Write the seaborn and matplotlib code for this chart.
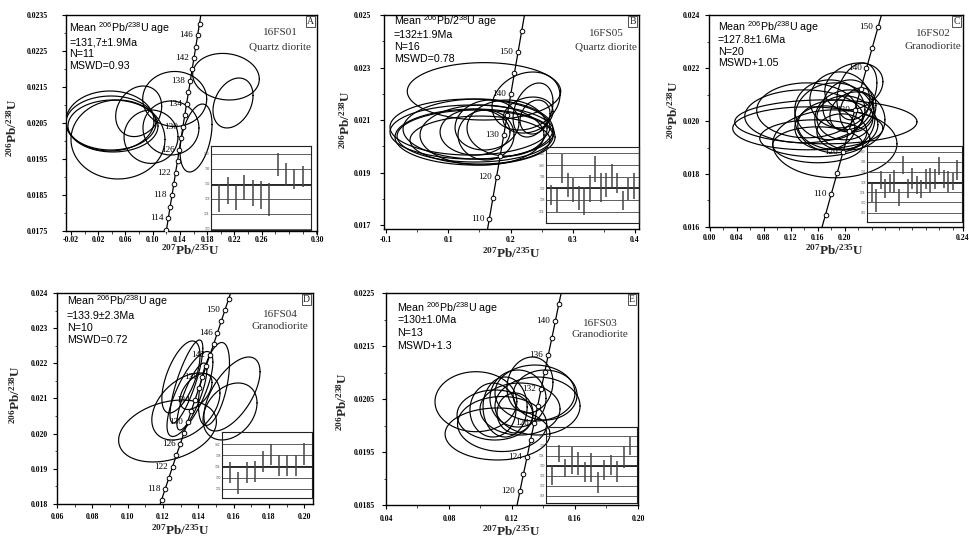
import numpy as np
import matplotlib
matplotlib.use("Agg")
import matplotlib.pyplot as plt
from matplotlib.ticker import FixedLocator, FixedFormatter, MultipleLocator, FormatStrFormatter
import seaborn as sns

# ---------------- Panel A : 16FS01 quartz diorite ----------------
A_ell_x = [0.0373, 0.0387, 0.0417, 0.0490, 0.0794, 0.1323, 0.0975, 0.1268, 0.1636, 0.2076, 0.2179]
A_ell_y = [0.020556, 0.020500, 0.020417, 0.020042, 0.020825, 0.021167, 0.020120, 0.020361, 0.020083, 0.021786, 0.021056]
A_ell_sx = [0.0646, 0.0661, 0.0661, 0.0690, 0.0338, 0.0470, 0.0396, 0.0411, 0.0235, 0.0489, 0.0294]
A_ell_sy = [0.000833, 0.000750, 0.000722, 0.001097, 0.000703, 0.000764, 0.000742, 0.000750, 0.000944, 0.000647, 0.000694]
A_ell_rho = [0.0, 0.0, 0.0, 0.0, 0.2, 0.0, 0.0, 0.0, 0.4, -0.1, 0.3]
A_age = [112, 114, 116, 118, 120, 122, 124, 126, 128, 130, 132, 134, 136, 138, 140, 142, 144, 146, 148, 150]
A_conc_x = [0.1202, 0.1229, 0.1255, 0.1283, 0.1310, 0.1336, 0.1364, 0.1390, 0.1417, 0.1443,
            0.1471, 0.1497, 0.1525, 0.1552, 0.1578, 0.1606, 0.1633, 0.1659, 0.1687, 0.1713]
A_conc_y = [0.017535, 0.017853, 0.018171, 0.018489, 0.018807, 0.019125, 0.019443, 0.019761, 0.020079, 0.020397,
            0.020715, 0.021033, 0.021351, 0.021669, 0.021987, 0.022305, 0.022623, 0.022941, 0.023259, 0.023577]
A_label_age = [114, 118, 122, 126, 130, 134, 138, 142, 146]
A_bar_lo = [124.4, 126.5, 125.1, 127.6, 126.2, 125.3, 123.3, 134.0, 131.6, 130.7, 131.1]
A_bar_hi = [132.0, 133.8, 131.3, 134.4, 132.9, 132.7, 132.3, 140.2, 137.5, 136.0, 136.6]
A_mean = 131.7
A_xtick_labels = ["-0.02", "0.02", "0.06", "0.10", "0.14", "0.18", "0.22", "0.26", "0.30"]
A_stats = ["Mean $^{206}$Pb/$^{238}$U age", "=131,7\u00b11.9Ma", "N=11", "MSWD=0.93"]
A_sample = ["16FS01", "Quartz diorite"]

# ---------------- Panel B : 16FS05 quartz diorite ----------------
B_ell_x = [0.1573, 0.2248, 0.2361, 0.2393, 0.1348, 0.1380, 0.1429, 0.1477, 0.1509, 0.1541, 0.1429, 0.1622, 0.1606, 0.1943, 0.2280, 0.1429]
B_ell_y = [0.022093, 0.021724, 0.021381, 0.021114, 0.020733, 0.020543, 0.020390, 0.020657, 0.020238, 0.020429,
           0.020543, 0.020810, 0.020429, 0.020695, 0.021190, 0.020352]
B_ell_sx = [0.1233, 0.0546, 0.0321, 0.0241, 0.1286, 0.1318, 0.1253, 0.1205, 0.1125, 0.0996, 0.0562, 0.0514, 0.0450, 0.0643, 0.0402, 0.1286]
B_ell_sy = [0.001093, 0.001105, 0.001029, 0.000648, 0.001067, 0.001029, 0.000990, 0.001143, 0.000914, 0.001143,
            0.000876, 0.000952, 0.000952, 0.001067, 0.000686, 0.001067]
B_ell_rho = [0.0, 0.2, 0.3, 0.2, 0.0, 0.0, 0.0, 0.0, 0.0, 0.0, 0.0, 0.1, 0.0, 0.0, 0.2, 0.0]
B_age = [105, 110, 115, 120, 125, 130, 135, 140, 145, 150, 155, 160]
B_conc_x = [0.1600, 0.1658, 0.1716, 0.1774, 0.1832, 0.1890, 0.1947, 0.2005, 0.2063, 0.2121, 0.2179, 0.2237]
B_conc_y = [0.016433, 0.017229, 0.018025, 0.018821, 0.019616, 0.020412, 0.021208, 0.022004, 0.022799, 0.023595, 0.024390, 0.025186]
B_label_age = [110, 120, 130, 140, 150]
B_bar_lo = [126.2, 123.9, 133.7, 129.1, 127.4, 124.5, 122.8, 127.4, 134.3, 127.4, 129.1, 132.6, 130.5, 124.5, 128.0, 128.5]
B_bar_hi = [133.2, 131.7, 143.9, 137.2, 135.5, 132.8, 132.3, 136.6, 143.2, 137.2, 137.2, 140.2, 137.2, 131.1, 135.5, 137.2]
B_mean = 132.0
B_xtick_labels = ["-0.1", "0.1", "0.2", "0.3", "0.4"]
B_stats = ["Mean $^{206}$Pb/2$^{38}$U age", "=132\u00b11.9Ma", "N=16", "MSWD=0.78"]
B_sample = ["16FS05", "Quartz diorite"]

# ---------------- Panel C : 16FS02 granodiorite ----------------
C_ell_x = [0.1452, 0.1719, 0.1393, 0.1437, 0.1852, 0.1556, 0.1600, 0.2133, 0.2178, 0.1926,
           0.2044, 0.1778, 0.2000, 0.2104, 0.1896, 0.1704, 0.2193, 0.1956, 0.1852, 0.2074]
C_ell_y = [0.019723, 0.019968, 0.020176, 0.020402, 0.019139, 0.019347, 0.019102, 0.021306, 0.021118, 0.020797,
           0.020609, 0.020421, 0.020119, 0.020345, 0.019855, 0.019742, 0.020421, 0.019592, 0.020119, 0.020043]
C_ell_sx = [0.1111, 0.1348, 0.0874, 0.0741, 0.0919, 0.0815, 0.0667, 0.0430, 0.0296, 0.0444,
            0.0370, 0.0519, 0.0415, 0.0326, 0.0593, 0.0444, 0.0267, 0.0370, 0.0593, 0.0519]
C_ell_sy = [0.000810, 0.000829, 0.000998, 0.001036, 0.001281, 0.000697, 0.000678, 0.000885, 0.001074, 0.001055,
            0.000942, 0.001130, 0.000829, 0.000754, 0.000942, 0.000829, 0.000829, 0.000678, 0.001319, 0.001130]
C_ell_rho = [0.0, 0.0, 0.0, 0.0, 0.0, 0.0, 0.0, 0.2, 0.3, 0.0, 0.1, 0.0, 0.0, 0.2, 0.0, 0.0, 0.2, 0.0, 0.0, 0.0]
C_age = [100, 105, 110, 115, 120, 125, 130, 135, 140, 145, 150, 155]
C_conc_x = [0.1627, 0.1714, 0.1800, 0.1887, 0.1973, 0.2060, 0.2147, 0.2233, 0.2320, 0.2406, 0.2493, 0.2580]
C_conc_y = [0.015675, 0.016464, 0.017252, 0.018041, 0.018829, 0.019618, 0.020406, 0.021195, 0.021983, 0.022772, 0.023560, 0.024349]
C_label_age = [110, 120, 130, 140, 150]
C_bar_lo = [120.0, 116.1, 125.2, 121.9, 124.1, 123.9, 118.7, 131.0, 121.9, 125.4,
            123.2, 121.9, 125.2, 123.9, 125.4, 130.6, 125.8, 124.1, 124.9, 129.0]
C_bar_hi = [127.7, 125.2, 132.3, 129.3, 131.0, 132.9, 125.4, 138.3, 129.3, 133.5,
            130.3, 129.0, 133.2, 133.5, 133.2, 137.8, 132.9, 132.3, 131.6, 136.5]
C_mean = 127.8
C_xtick_labels = ["0.00", "0.04", "0.08", "0.12", "0.16", "0.20", "0.24"]
C_stats = ["Mean $^{206}$Pb/$^{238}$U age", "=127.8\u00b11.6Ma", "N=20", "MSWD+1.05"]
C_sample = ["16FS02", "Granodiorite"]

# ---------------- Panel D : 16FS04 granodiorite ----------------
D_ell_x = [0.1226, 0.1330, 0.1333, 0.1302, 0.1353, 0.1489, 0.1591, 0.1580, 0.1364, 0.1387]
D_ell_y = [0.020076, 0.020773, 0.021484, 0.021612, 0.021128, 0.021413, 0.021128, 0.020631, 0.021057, 0.021199]
D_ell_sx = [0.0277, 0.0193, 0.0093, 0.0108, 0.0130, 0.0088, 0.0159, 0.0153, 0.0085, 0.0091]
D_ell_sy = [0.000881, 0.000953, 0.001180, 0.001024, 0.001208, 0.001180, 0.001052, 0.000810, 0.000953, 0.000512]
D_ell_rho = [0.3, 0.4, 0.8, 0.6, 0.75, 0.5, 0.6, 0.3, 0.8, 0.5]
D_age = [114, 116, 118, 120, 122, 124, 126, 128, 130, 132, 134, 136, 138, 140, 142, 144, 146, 148, 150, 152, 154]
D_conc_x = [0.1171, 0.1192, 0.1213, 0.1234, 0.1255, 0.1276, 0.1298, 0.1319, 0.1340, 0.1361, 0.1382,
            0.1403, 0.1424, 0.1445, 0.1466, 0.1488, 0.1509, 0.1530, 0.1551, 0.1572, 0.1593]
D_conc_y = [0.017797, 0.018114, 0.018431, 0.018749, 0.019066, 0.019384, 0.019701, 0.020018, 0.020336, 0.020653, 0.020971,
            0.021288, 0.021605, 0.021923, 0.022240, 0.022558, 0.022875, 0.023192, 0.023510, 0.023827, 0.024145]
D_label_age = [118, 122, 126, 130, 134, 138, 142, 146, 150]
D_bar_lo = [128.0, 124.1, 128.0, 128.4, 131.9, 134.5, 130.4, 130.4, 130.4, 134.5]
D_bar_hi = [135.7, 131.9, 135.7, 135.9, 139.4, 142.1, 138.0, 138.0, 138.0, 142.5]
D_mean = 133.9
D_xtick_labels = ["0.06", "0.08", "0.10", "0.12", "0.14", "0.16", "0.18", "0.20"]
D_stats = ["Mean $^{206}$Pb/$^{238}$U age", "=133.9\u00b12.3Ma", "N=10", "MSWD=0.72"]
D_sample = ["16FS04", "Granodiorite"]

# ---------------- Panel E : 16FS03 granodiorite ----------------
E_ell_x = [0.0971, 0.1346, 0.1362, 0.1108, 0.1137, 0.1251, 0.1156, 0.1238, 0.1314, 0.1219, 0.1092, 0.1079, 0.1410]
E_ell_y = [0.020449, 0.020613, 0.020368, 0.019840, 0.020028, 0.020311, 0.020349, 0.020509, 0.020764, 0.020236, 0.020198, 0.020292, 0.020575]
E_ell_sx = [0.0260, 0.0254, 0.0270, 0.0333, 0.0283, 0.0254, 0.0140, 0.0178, 0.0146, 0.0114, 0.0241, 0.0146, 0.0203]
E_ell_sy = [0.000566, 0.000528, 0.000547, 0.000491, 0.000519, 0.000491, 0.000566, 0.000538, 0.000528, 0.000377, 0.000472, 0.000509, 0.000472]
E_ell_rho = [0.0, 0.0, 0.0, 0.0, 0.0, 0.0, 0.0, 0.0, 0.1, 0.0, 0.0, 0.0, 0.0]
E_age = [118, 120, 122, 124, 126, 128, 130, 132, 134, 136, 138, 140, 142, 144]
E_conc_x = [0.1229, 0.1251, 0.1273, 0.1296, 0.1318, 0.1341, 0.1363, 0.1385, 0.1408, 0.1430, 0.1453, 0.1475, 0.1497, 0.1520]
E_conc_y = [0.018450, 0.018770, 0.019090, 0.019409, 0.019729, 0.020049, 0.020368, 0.020688, 0.021008, 0.021328,
            0.021647, 0.021967, 0.022287, 0.022606]
E_label_age = [120, 124, 128, 132, 136, 140]
E_bar_lo = [122.4, 131.5, 125.3, 126.7, 126.4, 123.5, 123.5, 119.1, 124.4, 126.4, 123.5, 129.1, 134.4]
E_bar_hi = [129.7, 138.4, 132.8, 137.3, 135.5, 131.5, 135.1, 127.5, 132.4, 134.4, 132.0, 137.7, 141.3]
E_mean = 130.0
E_xtick_labels = ["0.04", "0.08", "0.12", "0.16", "0.20"]
E_stats = ["Mean $^{206}$Pb/$^{238}$U age", "=130\u00b11.0Ma", "N=13", "MSWD+1.3"]
E_sample = ["16FS03", "Granodiorite"]

# ---------------- styling ----------------
sns.set_theme(style="white")
plt.rcParams["font.family"] = ["Liberation Sans", "DejaVu Sans"]
plt.rcParams["mathtext.default"] = "regular"
plt.rcParams["axes.linewidth"] = 1.0
SERIF = ["Liberation Serif", "DejaVu Serif"]

W, H = 970, 539
fig = plt.figure(figsize=(W / 100, H / 100), dpi=100)
fig.patch.set_facecolor("white")


def px_rect(left, top, right, bottom):
    return [left / W, 1 - bottom / H, (right - left) / W, (bottom - top) / H]


panels = [
    dict(letter="A", rect=px_rect(66, 15, 317, 231), inset=px_rect(211, 146, 311, 230),
         ell=(A_ell_x, A_ell_y, A_ell_sx, A_ell_sy, A_ell_rho),
         conc=(A_age, A_conc_x, A_conc_y), labels=A_label_age,
         bars=(A_bar_lo, A_bar_hi), mean=A_mean, inset_ylim=(119.7, 142.0), inset_grid=[120, 124, 128, 132, 136, 140],
         xlim=(-0.0273, 0.3412), xticks=[-0.02, 0.02, 0.06, 0.10, 0.14, 0.18, 0.22, 0.26, 0.3412],
         xlabels=A_xtick_labels, xminor=0.02, xpad=0.6, ypad=10.0,
         ylim=(0.0175, 0.0235), yticks=np.arange(0.0175, 0.02351, 0.001), yfmt="%.4f", yminor=0.0005,
         stats=A_stats, stats_x=0.013, stats_y=[0.938, 0.872, 0.819, 0.765],
         sample=A_sample, sample_x=0.853, sample_y=[0.917, 0.853],
         xlab=(0.497, -0.088), ylab=(-0.215, 0.477)),
    dict(letter="B", rect=px_rect(384, 15, 639, 229), inset=px_rect(546, 147, 639, 223),
         ell=(B_ell_x, B_ell_y, B_ell_sx, B_ell_sy, B_ell_rho),
         conc=(B_age, B_conc_x, B_conc_y), labels=B_label_age,
         bars=(B_bar_lo, B_bar_hi), mean=B_mean, inset_ylim=(120.1, 146.2), inset_grid=[124, 128, 132, 136, 140, 144],
         xlim=(-0.0034, 0.4064), xticks=[0.0, 0.1, 0.2, 0.3, 0.4], xlabels=B_xtick_labels, xminor=0.05,
         xpad=1.8, ypad=6.0,
         ylim=(0.01685, 0.025), yticks=np.arange(0.017, 0.02501, 0.002), yfmt="%.3f", yminor=0.001,
         stats=B_stats, stats_x=0.039, stats_y=[0.970, 0.905, 0.850, 0.794],
         sample=B_sample, sample_x=0.871, sample_y=[0.914, 0.852],
         xlab=(0.50, -0.112), ylab=(-0.152, 0.51)),
    dict(letter="C", rect=px_rect(709, 15, 963, 227), inset=px_rect(867, 146, 962, 222),
         ell=(C_ell_x, C_ell_y, C_ell_sx, C_ell_sy, C_ell_rho),
         conc=(C_age, C_conc_x, C_conc_y), labels=C_label_age,
         bars=(C_bar_lo, C_bar_hi), mean=C_mean, inset_ylim=(112.3, 142.2), inset_grid=[116, 120, 124, 128, 132, 136, 140],
         xlim=(-0.001, 0.3748), xticks=[0.0, 0.04, 0.08, 0.12, 0.16, 0.20, 0.3748], xlabels=C_xtick_labels, xminor=0.02,
         xpad=1.8, ypad=3.5,
         ylim=(0.016, 0.024), yticks=np.arange(0.016, 0.02401, 0.002), yfmt="%.3f", yminor=0.001,
         stats=C_stats, stats_x=0.035, stats_y=[0.945, 0.882, 0.827, 0.773],
         sample=C_sample, sample_x=0.883, sample_y=[0.914, 0.851],
         xlab=(0.495, -0.110), ylab=(-0.140, 0.553)),
    dict(letter="D", rect=px_rect(57, 293, 313, 504), inset=px_rect(222, 432, 312, 498),
         ell=(D_ell_x, D_ell_y, D_ell_sx, D_ell_sy, D_ell_rho),
         conc=(D_age, D_conc_x, D_conc_y), labels=D_label_age,
         bars=(D_bar_lo, D_bar_hi), mean=D_mean, inset_ylim=(122.7, 146.3), inset_grid=[126, 130, 134, 138, 142],
         xlim=(0.06, 0.205), xticks=[0.06, 0.08, 0.10, 0.12, 0.14, 0.16, 0.18, 0.20], xlabels=D_xtick_labels, xminor=0.01,
         xpad=3.5, ypad=3.5,
         ylim=(0.018, 0.024), yticks=np.arange(0.018, 0.02401, 0.001), yfmt="%.3f", yminor=0.0005,
         stats=D_stats, stats_x=0.038, stats_y=[0.962, 0.891, 0.834, 0.777],
         sample=D_sample, sample_x=0.871, sample_y=[0.899, 0.840],
         xlab=(0.483, -0.127), ylab=(-0.164, 0.517)),
    dict(letter="E", rect=px_rect(386, 293, 638, 505), inset=px_rect(546, 427, 637, 503),
         ell=(E_ell_x, E_ell_y, E_ell_sx, E_ell_sy, E_ell_rho),
         conc=(E_age, E_conc_x, E_conc_y), labels=E_label_age,
         bars=(E_bar_lo, E_bar_hi), mean=E_mean, inset_ylim=(115.0, 145.5), inset_grid=[118, 122, 126, 130, 134, 138, 142],
         xlim=(0.04, 0.20), xticks=[0.04, 0.08, 0.12, 0.16, 0.20], xlabels=E_xtick_labels, xminor=0.02,
         xpad=4.5, ypad=5.0,
         ylim=(0.0185, 0.0225), yticks=np.arange(0.0185, 0.02251, 0.001), yfmt="%.4f", yminor=0.0005,
         stats=E_stats, stats_x=0.045, stats_y=[0.928, 0.873, 0.810, 0.751],
         sample=E_sample, sample_x=0.849, sample_y=[0.857, 0.802],
         xlab=(0.499, -0.124), ylab=(-0.172, 0.487)),
]


def ellipse_outline(cx, cy, sx, sy, rho, n=240):
    t = np.linspace(0, 2 * np.pi, n)
    x = cx + sx * np.cos(t)
    y = cy + sy * (rho * np.cos(t) + np.sqrt(1 - rho ** 2) * np.sin(t))
    return x, y


for p in panels:
    ax = fig.add_axes(p["rect"])
    ax.set_facecolor("white")
    for s in ax.spines.values():
        s.set_color("black")
        s.set_linewidth(1.0)

    # error ellipses
    for cx, cy, sx, sy, rho in zip(*p["ell"]):
        ex, ey = ellipse_outline(cx, cy, sx, sy, rho)
        ax.plot(ex, ey, color="black", lw=0.85, zorder=2)

    # concordia curve with age markers
    ages, cxs, cys = p["conc"]
    sns.lineplot(x=cxs, y=cys, ax=ax, color="black", lw=0.9, sort=False, zorder=3)
    sns.scatterplot(x=cxs, y=cys, ax=ax, marker="o", s=11, facecolor="white",
                    edgecolor="black", linewidth=0.7, zorder=4)
    for age, xv, yv in zip(ages, cxs, cys):
        if age in p["labels"]:
            ax.annotate(str(age), (xv, yv), xytext=(-3.5, 0), textcoords="offset points",
                        ha="right", va="center", fontsize=6.6, family=SERIF, color="black", zorder=5)

    ax.set_xlim(*p["xlim"])
    ax.set_ylim(*p["ylim"])
    ax.xaxis.set_major_locator(FixedLocator(p["xticks"]))
    ax.xaxis.set_major_formatter(FixedFormatter(p["xlabels"]))
    ax.xaxis.set_minor_locator(MultipleLocator(p["xminor"]))
    ax.yaxis.set_major_locator(FixedLocator(p["yticks"]))
    ax.yaxis.set_major_formatter(FormatStrFormatter(p["yfmt"]))
    ax.yaxis.set_minor_locator(MultipleLocator(p["yminor"]))
    ax.tick_params(which="major", direction="out", length=3, width=0.8,
                   labelsize=5.6, bottom=True, left=True, colors="black")
    ax.tick_params(axis="x", which="major", pad=p["xpad"])
    ax.tick_params(axis="y", which="major", pad=p["ypad"])
    ax.tick_params(which="minor", direction="out", length=1.8, width=0.6, bottom=True, left=True)
    for lab in ax.get_xticklabels() + ax.get_yticklabels():
        lab.set_family(SERIF)
        lab.set_fontweight("bold")

    ax.text(*p["xlab"], "$^{207}$Pb/$^{235}$U", transform=ax.transAxes, ha="center", va="center",
            fontsize=9.5, family=SERIF, fontweight="bold")
    ax.text(*p["ylab"], "$^{206}$Pb/$^{238}$U", transform=ax.transAxes, ha="center", va="center",
            rotation=90, fontsize=9.5, family=SERIF, fontweight="bold")

    for line, yy in zip(p["stats"], p["stats_y"]):
        ax.text(p["stats_x"], yy, line, transform=ax.transAxes, ha="left", va="center",
                fontsize=7.7, color="black", zorder=6)
    for line, yy in zip(p["sample"], p["sample_y"]):
        ax.text(p["sample_x"], yy, line, transform=ax.transAxes, ha="center", va="center",
                fontsize=8, family=SERIF, color="#333333", zorder=6)
    ax.annotate(p["letter"], (1, 1), xycoords="axes fraction", xytext=(-2.2, -1.6),
                textcoords="offset points", ha="right", va="top", fontsize=7, family=SERIF,
                bbox=dict(boxstyle="square,pad=0.12", fc="white", ec="#333333", lw=0.6), zorder=7)

    # weighted-mean age inset
    ia = fig.add_axes(p["inset"])
    ia.set_facecolor("none")
    for s in ia.spines.values():
        s.set_color("#222222")
        s.set_linewidth(0.8)
    lo, hi = p["bars"]
    idx = np.arange(1, len(lo) + 1)
    for g in p["inset_grid"]:
        ia.axhline(g, color="#444444", lw=0.6, zorder=1)
    ia.axhline(p["mean"], color="#222222", lw=1.3, zorder=2)
    ia.vlines(idx, lo, hi, color="#444444", lw=1.1, zorder=3)
    ia.set_xlim(0, len(lo) + 1)
    ia.set_ylim(*p["inset_ylim"])
    ia.set_xticks([])
    ia.set_yticks(p["inset_grid"])
    ia.tick_params(axis="y", length=0, labelsize=2.3, pad=1, labelcolor="#555555")

fig.savefig("out.png", dpi=100, facecolor="white")
